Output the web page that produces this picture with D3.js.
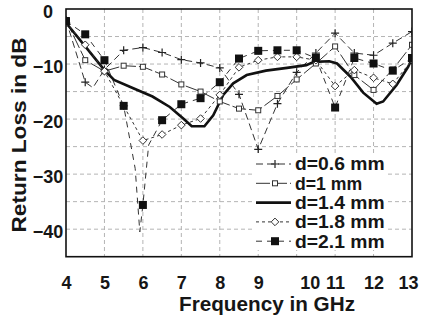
<!DOCTYPE html>
<html><head><meta charset="utf-8">
<script src="https://cdn.jsdelivr.net/npm/d3@7"></script>
<style>
html,body{margin:0;padding:0;background:#fff;}
svg text{font-family:"Liberation Sans",Arial,sans-serif;font-weight:bold;fill:#161616;}
</style></head>
<body><svg id="c" width="427" height="320"></svg>
<script>
// ---- data ----
const freqTicks = [4,5,6,7,8,9,10,11,12,13];
const dbTicks = [0,-10,-20,-30,-40];
const gridDb = [0,-5,-10,-15,-20,-25,-30,-35,-40,-45];
const seriesNames = ["d=0.6 mm","d=1 mm","d=1.4 mm","d=1.8 mm","d=2.1 mm"];
const d06 = [[4,-2],[4.5,-13.3],[4.7,-14.3],[5,-11],[5.5,-7.5],[6,-7.0],[6.5,-7.9],[7,-9.2],[7.5,-9.8],[8,-10.7],[8.5,-15.5],[9,-25.5],[9.5,-17.2],[10,-11.5],[10.5,-8.0],[11,-4.4],[11.5,-8.0],[12,-8.4],[12.5,-6.2],[13,-4.1]];
const d10 = [[4,-2],[4.5,-9.3],[5,-11.3],[5.5,-10.3],[6,-10.5],[6.5,-11.9],[7,-13.7],[7.5,-15.0],[8,-16.8],[8.5,-18.1],[9,-18.4],[9.5,-15.8],[10,-12.8],[10.5,-9.9],[11,-6.8],[11.5,-12.0],[12,-14.7],[12.5,-11.0],[13,-6.5]];
const d14 = [[4,-2.5],[4.5,-6.8],[5,-11.1],[5.25,-12.9],[5.75,-14.4],[6.25,-15.9],[6.7,-17.8],[7.05,-19.9],[7.27,-21.3],[7.6,-21.3],[7.83,-19.3],[8.09,-15.6],[8.35,-13.5],[8.7,-12],[9.2,-11.2],[9.75,-10.7],[10.25,-10.2],[10.45,-9.6],[10.85,-9.5],[11.05,-9.9],[11.4,-12.3],[11.73,-15.2],[12.08,-17.2],[12.25,-16.8],[12.6,-13.8],[12.9,-10.5],[13,-9]];
const d18 = [[4,-2.5],[4.5,-6.5],[5,-11.3],[5.5,-17.6],[6,-23.9],[6.5,-22.8],[7,-21.1],[7.5,-19.9],[8,-15.6],[8.5,-10.6],[9,-9.3],[9.5,-8.7],[10,-8.7],[10.5,-9.3],[11,-14.0],[11.5,-11.1],[12,-12.5],[12.5,-13.6],[13,-9.3]];
const d21 = [[4,-2.2],[4.5,-4.6],[5,-9.3],[5.5,-17.6],[5.8,-29],[5.92,-40.5],[6,-35.6],[6.15,-24.7],[6.5,-20.2],[7,-17.3],[7.5,-16.2],[8,-13.3],[8.5,-9.0],[9,-7.6],[9.5,-7.5],[10,-7.5],[10.5,-8.9],[11,-17.9],[11.5,-8.9],[12,-9.9],[12.5,-11.2],[13,-8.9]];

// ---- styles ----
const styles = [
  {data:d06, dash:"7,4", w:1, marker:"plus"},
  {data:d10, dash:"14,3", w:1, marker:"sq"},
  {data:d14, dash:null, w:2.6, marker:null},
  {data:d18, dash:"3,3", w:1, marker:"diamond"},
  {data:d21, dash:"6,5", w:1, marker:"fsq"}
];
const labelNudge = {10:13, 13:-4};

const svg = d3.select("#c");
const L=66, R=412, T=9, B=256.7;
const x = d3.scaleLinear().domain([4,13]).range([L,R]);
const y = d3.scaleLinear().domain([-45,0]).range([B,T]);

// grid
const g = svg.append("g");
g.selectAll(".vg").data(freqTicks.slice(1,-1)).join("line")
  .attr("x1",d=>x(d)).attr("x2",d=>x(d)).attr("y1",T).attr("y2",B)
  .attr("stroke","#b4b4b4").attr("stroke-dasharray","4,3").attr("stroke-width",1);
g.selectAll(".hg").data(gridDb.slice(1,-1)).join("line")
  .attr("y1",d=>y(d)).attr("y2",d=>y(d)).attr("x1",L).attr("x2",R)
  .attr("stroke","#b4b4b4").attr("stroke-dasharray","4,3").attr("stroke-width",1);

// clip
svg.append("clipPath").attr("id","cp").append("rect").attr("x",L).attr("y",T-3).attr("width",R-L).attr("height",B-T+3);

const line = d3.line().x(d=>x(d[0])).y(d=>y(d[1]));
const plot = svg.append("g").attr("clip-path","url(#cp)");

function drawMarker(sel, type, cx, cy){
  if(type==="plus"){
    sel.append("path").attr("d",`M${cx-4},${cy}H${cx+4}M${cx},${cy-4}V${cy+4}`).attr("stroke","#222").attr("stroke-width",1.2).attr("fill","none");
  } else if(type==="sq"){
    sel.append("rect").attr("x",cx-2.5).attr("y",cy-2.5).attr("width",5).attr("height",5).attr("fill","#fff").attr("stroke","#333").attr("stroke-width",1);
  } else if(type==="diamond"){
    sel.append("path").attr("d",`M${cx},${cy-3.8}L${cx+3.8},${cy}L${cx},${cy+3.8}L${cx-3.8},${cy}Z`).attr("fill","#fff").attr("stroke","#333").attr("stroke-width",1);
  } else if(type==="fsq"){
    sel.append("rect").attr("x",cx-4).attr("y",cy-4).attr("width",8).attr("height",8).attr("fill","#111");
  }
}

styles.forEach(s=>{
  plot.append("path").datum(s.data).attr("d",line).attr("fill","none")
    .attr("stroke", s.w>2?"#111":"#333").attr("stroke-width",s.w)
    .attr("stroke-dasharray",s.dash);
});
styles.forEach(s=>{
  if(!s.marker) return;
  const mg = plot.append("g");
  s.data.filter(d=>Math.abs(d[0]*2-Math.round(d[0]*2))<1e-6).forEach(d=>drawMarker(mg,s.marker,x(d[0]),y(d[1])));
});

// legend
const lg = svg.append("g");
lg.append("rect").attr("x",254).attr("y",153).attr("width",134).attr("height",97).attr("fill","#fff");
seriesNames.forEach((n,i)=>{
  const yy = 164 + i*19.3;
  const s = styles[i];
  lg.append("line").attr("x1",256).attr("x2",291).attr("y1",yy).attr("y2",yy)
    .attr("stroke", s.w>2?"#111":"#333").attr("stroke-width",s.w).attr("stroke-dasharray",s.dash);
  if(s.marker) drawMarker(lg,s.marker,275,yy);
  lg.append("text").attr("x",295).attr("y",yy).attr("dy","0.36em").attr("font-size",18)
    .attr("textLength",n.length*11.2).attr("lengthAdjust","spacingAndGlyphs").text(n);
});

// frame
svg.append("rect").attr("x",L).attr("y",T).attr("width",R-L).attr("height",B-T)
  .attr("fill","none").attr("stroke","#111").attr("stroke-width",1.6);

// axes
const xa = svg.append("g").attr("transform",`translate(0,${B})`)
  .call(d3.axisBottom(x).tickValues(freqTicks).tickSize(0).tickPadding(20).tickFormat(d3.format("d")));
xa.select(".domain").remove();
xa.selectAll("text").attr("font-size",18).attr("fill","#161616")
  .attr("dx",d=>labelNudge[d]||0);
const ya = svg.append("g").attr("transform",`translate(${L},0)`)
  .call(d3.axisLeft(y).tickValues(dbTicks).tickSize(0).tickPadding(18).tickFormat(d3.format("d")));
ya.select(".domain").remove();
ya.selectAll("text").attr("font-size",18).attr("fill","#161616").attr("text-anchor","middle").attr("dy","0.45em");

// titles
svg.append("text").attr("x",267).attr("y",311).attr("text-anchor","middle").attr("font-size",20.5)
  .attr("textLength",176).attr("lengthAdjust","spacingAndGlyphs").text("Frequency in GHz");
svg.append("text").attr("transform","translate(26,135) rotate(-90)").attr("text-anchor","middle").attr("font-size",20)
  .attr("textLength",195).attr("lengthAdjust","spacingAndGlyphs").text("Return Loss in dB");
</script></body></html>
